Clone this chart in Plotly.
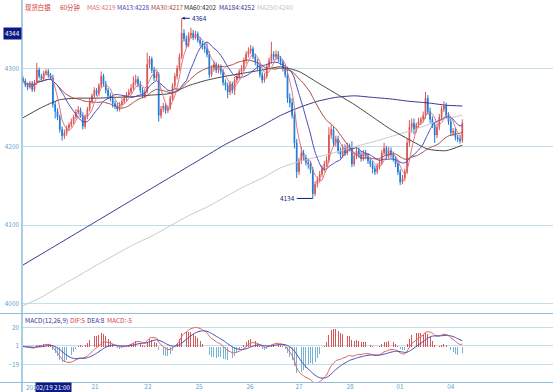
import numpy as np
import pandas as pd
import plotly.graph_objects as go

# ---------------- data ----------------
opens = [4287, 4284, 4279, 4276, 4281, 4273, 4282, 4298, 4290, 4287,
         4294, 4296, 4291, 4288, 4254, 4245, 4238, 4222, 4214, 4218,
         4224, 4228, 4232, 4238, 4244, 4247, 4240, 4226, 4238, 4248,
         4258, 4265, 4272, 4268, 4278, 4290, 4280, 4272, 4265, 4262,
         4255, 4252, 4248, 4254, 4258, 4262, 4266, 4270, 4275, 4282,
         4286, 4280, 4272, 4266, 4270, 4305, 4312, 4298, 4288, 4292,
         4240, 4248, 4252, 4246, 4250, 4262, 4278, 4290, 4300, 4315,
         4345, 4338, 4330, 4342, 4345, 4340, 4344, 4336, 4332, 4328,
         4325, 4318, 4292, 4300, 4305, 4298, 4302, 4296, 4282, 4278,
         4270, 4280, 4272, 4285, 4290, 4296, 4300, 4310, 4318, 4322,
         4325, 4315, 4308, 4302, 4292, 4285, 4290, 4302, 4310, 4318,
         4315, 4318, 4312, 4308, 4300, 4292, 4262, 4256, 4240, 4205,
         4168, 4182, 4192, 4186, 4180, 4178, 4170, 4140, 4152, 4158,
         4165, 4172, 4178, 4183, 4215, 4222, 4205, 4210, 4195, 4190,
         4198, 4192, 4200, 4198, 4178, 4188, 4195, 4190, 4185, 4192,
         4188, 4182, 4178, 4172, 4168, 4175, 4180, 4192, 4198, 4188,
         4195, 4190, 4185, 4178, 4168, 4155, 4160, 4168, 4205, 4225,
         4230, 4222, 4228, 4232, 4235, 4240, 4262, 4245, 4235, 4228,
         4215, 4225, 4238, 4248, 4252, 4240, 4232, 4218, 4220, 4212,
         4210, 4208]
highs = [4290, 4287, 4282, 4284, 4284, 4285, 4307, 4301, 4293, 4297,
         4299, 4299, 4294, 4292, 4258, 4249, 4241, 4226, 4222, 4227,
         4231, 4236, 4241, 4248, 4252, 4250, 4244, 4241, 4251, 4262,
         4268, 4276, 4275, 4281, 4296, 4293, 4284, 4275, 4269, 4265,
         4259, 4256, 4257, 4262, 4266, 4270, 4274, 4280, 4290, 4292,
         4290, 4284, 4276, 4274, 4320, 4316, 4315, 4302, 4296, 4295,
         4252, 4256, 4255, 4253, 4265, 4281, 4294, 4304, 4319, 4364,
         4350, 4342, 4346, 4352, 4349, 4348, 4347, 4340, 4335, 4332,
         4332, 4322, 4304, 4310, 4308, 4306, 4305, 4299, 4286, 4282,
         4284, 4283, 4289, 4294, 4299, 4304, 4314, 4322, 4327, 4330,
         4328, 4319, 4312, 4305, 4296, 4294, 4306, 4314, 4334, 4322,
         4323, 4322, 4316, 4311, 4304, 4302, 4268, 4262, 4245, 4210,
         4186, 4200, 4196, 4190, 4185, 4182, 4174, 4156, 4162, 4169,
         4176, 4182, 4188, 4225, 4228, 4226, 4214, 4214, 4199, 4203,
         4203, 4205, 4204, 4207, 4192, 4199, 4199, 4194, 4196, 4196,
         4192, 4186, 4182, 4176, 4179, 4184, 4196, 4205, 4201, 4200,
         4199, 4194, 4188, 4182, 4171, 4164, 4172, 4210, 4234, 4236,
         4236, 4231, 4237, 4238, 4245, 4270, 4266, 4250, 4239, 4231,
         4229, 4242, 4252, 4258, 4256, 4244, 4236, 4224, 4224, 4215,
         4214, 4235]
lows = [4281, 4276, 4272, 4274, 4270, 4270, 4279, 4287, 4284, 4284,
        4291, 4288, 4285, 4250, 4236, 4234, 4218, 4208, 4210, 4214,
        4220, 4225, 4229, 4235, 4241, 4237, 4222, 4223, 4235, 4245,
        4255, 4262, 4265, 4265, 4275, 4277, 4268, 4261, 4258, 4250,
        4248, 4245, 4245, 4251, 4255, 4258, 4263, 4267, 4272, 4278,
        4276, 4268, 4262, 4262, 4268, 4300, 4294, 4284, 4285, 4232,
        4236, 4244, 4242, 4243, 4247, 4259, 4274, 4286, 4297, 4312,
        4334, 4326, 4327, 4338, 4336, 4337, 4333, 4328, 4324, 4320,
        4314, 4288, 4289, 4296, 4294, 4294, 4292, 4278, 4272, 4262,
        4266, 4268, 4266, 4281, 4286, 4292, 4297, 4306, 4314, 4318,
        4312, 4304, 4298, 4288, 4281, 4282, 4287, 4299, 4306, 4310,
        4311, 4308, 4304, 4296, 4288, 4256, 4250, 4236, 4198, 4160,
        4164, 4178, 4182, 4176, 4172, 4166, 4134, 4137, 4148, 4154,
        4161, 4168, 4174, 4180, 4210, 4200, 4200, 4191, 4185, 4186,
        4188, 4189, 4194, 4174, 4175, 4184, 4186, 4181, 4182, 4184,
        4178, 4174, 4166, 4164, 4165, 4171, 4177, 4189, 4184, 4185,
        4186, 4181, 4174, 4164, 4151, 4152, 4156, 4165, 4200, 4218,
        4216, 4218, 4224, 4228, 4231, 4236, 4241, 4230, 4224, 4205,
        4211, 4221, 4234, 4244, 4236, 4228, 4214, 4214, 4208, 4206,
        4204, 4205]
closes = [4284, 4279, 4276, 4281, 4273, 4282, 4298, 4290, 4287, 4294,
          4296, 4291, 4288, 4254, 4245, 4238, 4222, 4214, 4218, 4224,
          4228, 4232, 4238, 4244, 4247, 4240, 4226, 4238, 4248, 4258,
          4265, 4272, 4268, 4278, 4290, 4280, 4272, 4265, 4262, 4255,
          4252, 4248, 4254, 4258, 4262, 4266, 4270, 4275, 4282, 4286,
          4280, 4272, 4266, 4270, 4305, 4312, 4298, 4288, 4292, 4240,
          4248, 4252, 4246, 4250, 4262, 4278, 4290, 4300, 4315, 4345,
          4338, 4330, 4342, 4345, 4340, 4344, 4336, 4332, 4328, 4325,
          4318, 4292, 4300, 4305, 4298, 4302, 4296, 4282, 4278, 4270,
          4280, 4272, 4285, 4290, 4296, 4300, 4310, 4318, 4322, 4325,
          4315, 4308, 4302, 4292, 4285, 4290, 4302, 4310, 4318, 4315,
          4318, 4312, 4308, 4300, 4292, 4262, 4256, 4240, 4205, 4168,
          4182, 4192, 4186, 4180, 4178, 4170, 4140, 4152, 4158, 4165,
          4172, 4178, 4183, 4215, 4222, 4205, 4210, 4195, 4190, 4198,
          4192, 4200, 4198, 4178, 4188, 4195, 4190, 4185, 4192, 4188,
          4182, 4178, 4172, 4168, 4175, 4180, 4192, 4198, 4188, 4195,
          4190, 4185, 4178, 4168, 4155, 4160, 4168, 4205, 4225, 4230,
          4222, 4228, 4232, 4235, 4240, 4262, 4245, 4235, 4228, 4215,
          4225, 4238, 4248, 4252, 4240, 4232, 4218, 4220, 4212, 4210,
          4208, 4230]

# long moving averages at these bar positions
ma_idx = [0, 8, 16, 24, 32, 40, 48, 56, 64, 72, 80, 88, 96, 104, 112, 120,
          128, 136, 144, 152, 160, 168, 176, 184, 191]
ma60 = [4237, 4250, 4260, 4262, 4262, 4263, 4264, 4266, 4268, 4278, 4285, 4290,
        4294, 4298, 4302, 4296, 4282, 4268, 4254, 4238, 4222, 4209, 4197, 4195, 4202]
ma184 = [4049, 4063, 4077, 4091, 4105, 4119, 4133, 4147, 4161, 4175, 4189, 4203,
         4215, 4227, 4240, 4250, 4258, 4263, 4265, 4263, 4261, 4258, 4256, 4253, 4252]
ma250 = [3997, 4008, 4022, 4035, 4049, 4062, 4075, 4086, 4099, 4112, 4123, 4136,
         4149, 4160, 4173, 4181, 4187, 4193, 4200, 4206, 4213, 4220, 4228, 4236, 4240]

day_labels = ["21", "22", "25", "26", "27", "28", "01", "04"]
day_pos = [31.3, 54.3, 76.5, 98.7, 120, 142.2, 163.9, 186]
price_ticks = [4000, 4100, 4200, 4300]
macd_ticks = [-19, 1, 20]
header_texts = ["现货白银", "60分钟", "MA5:4219", "MA13:4228", "MA30:4217",
                "MA60:4202", "MA184:4252", "MA250:4240"]
macd_texts = ["MACD(12,26,9)", "DIF:5", "DEA:8", "MACD:-5"]

# ---------------- derived indicators ----------------
N = len(closes)
x = list(range(N))
cs = pd.Series(closes, dtype=float)
ma5 = cs.rolling(5, min_periods=1).mean()
ma13 = cs.rolling(13, min_periods=1).mean()
ma30 = cs.rolling(30, min_periods=1).mean()
ema12 = cs.ewm(span=12, adjust=False).mean()
ema26 = cs.ewm(span=26, adjust=False).mean()
dif = ema12 - ema26
dea = dif.ewm(span=9, adjust=False).mean()
hist = 2 * (dif - dea)

C_UP = "#DA5555"
C_DN = "#1C7BD8"
C_MA5 = "#E0707C"
C_MA13 = "#4646B8"
C_MA30 = "#A8483E"
C_MA60 = "#454545"
C_MA184 = "#35358F"
C_MA250 = "#C9C9C9"
GRID = "#C4DDEA"
AXC = "#5F9FD0"
NAVY = "#0C1A86"
FONT = "Noto Sans CJK SC"
FS = 6.4

fig = go.Figure()
fig.add_trace(go.Candlestick(
    x=x, open=opens, high=highs, low=lows, close=closes,
    increasing=dict(line=dict(color=C_UP, width=1), fillcolor=C_UP),
    decreasing=dict(line=dict(color=C_DN, width=1), fillcolor=C_DN),
    whiskerwidth=0, xaxis="x", yaxis="y", showlegend=False, hoverinfo="skip"))

def line(xs, ys, color, xa="x", ya="y", w=1):
    fig.add_trace(go.Scatter(x=xs, y=list(ys), mode="lines",
                             line=dict(color=color, width=w, shape="spline", smoothing=0.6),
                             xaxis=xa, yaxis=ya, showlegend=False, hoverinfo="skip"))

line(ma_idx, ma250, C_MA250)
line(ma_idx, ma184, C_MA184)
line(ma_idx, ma60, C_MA60)
line(x, ma30, C_MA30)
line(x, ma13, C_MA13)
line(x, ma5, C_MA5)

# MACD panel
fig.add_trace(go.Bar(x=x, y=list(hist), width=0.4,
                     marker=dict(color=[C_UP if v >= 0 else "#76B2D8" for v in hist],
                                 line=dict(width=0)),
                     xaxis="x2", yaxis="y2", showlegend=False, hoverinfo="skip"))
line(x, dif, "#D86262", "x2", "y2")
line(x, dea, "#4A4AB0", "x2", "y2")

W, H = 554, 392
L = 22
PW = W - L - 1

def py(p):  # pixel row -> paper fraction
    return (H - p) / H

def px(p):  # pixel column -> paper fraction
    return (p - L) / PW

xr = [-1 / 2.3, -1 / 2.3 + PW / 2.3]

fig.update_layout(
    width=W, height=H, margin=dict(l=L, r=1, t=0, b=0, autoexpand=False),
    paper_bgcolor="white", plot_bgcolor="white",
    font=dict(family=FONT, size=FS, color=AXC),
    bargap=0, boxgap=0.55, hovermode=False, showlegend=False,
    xaxis=dict(domain=[0, 1], range=xr, anchor="y", showticklabels=False,
               showgrid=False, zeroline=False, rangeslider=dict(visible=False),
               automargin=False, fixedrange=True),
    yaxis=dict(domain=[py(310), py(12)], range=[3991.6, 4372], tickvals=price_ticks,
               showgrid=True, gridcolor=GRID, gridwidth=1, zeroline=False,
               ticks="", ticklabelstandoff=2, automargin=False,
               tickfont=dict(size=FS, color=AXC), anchor="x"),
    xaxis2=dict(domain=[0, 1], range=xr, anchor="y2", tickvals=day_pos,
                ticktext=day_labels, ticks="", showgrid=False, zeroline=False,
                automargin=False, ticklabelstandoff=0,
                tickfont=dict(size=FS, color=AXC), matches="x"),
    yaxis2=dict(domain=[py(382), py(314)], range=[-37, 33.9], tickvals=macd_ticks,
                showgrid=True, gridcolor=GRID, gridwidth=1, zeroline=False,
                ticks="", ticklabelstandoff=2, automargin=False,
                tickfont=dict(size=FS, color=AXC), anchor="x2"),
)

shapes = [
    dict(type="line", xref="paper", yref="paper", x0=0, x1=0, y0=0, y1=1,
         line=dict(color="#8FBCDB", width=1.5)),
    dict(type="line", xref="paper", yref="paper", x0=-L / PW, x1=1,
         y0=py(313.5), y1=py(313.5), line=dict(color="#8FBCDB", width=1.2)),
    dict(type="line", xref="paper", yref="paper", x0=-L / PW, x1=1,
         y0=py(382.5), y1=py(382.5), line=dict(color="#8FBCDB", width=1.2)),
]
fig.update_layout(shapes=shapes)

ann = []
header_x = [23, 58, 85, 115, 149, 182, 217, 255]
header_c = ["#D03535", "#D03535", C_MA5, C_MA13, C_MA30, "#303030", C_MA184, "#C4C4C4"]
for t, xp, c in zip(header_texts, header_x, header_c):
    ann.append(dict(text=t, x=px(xp), y=py(7.5), xref="paper", yref="paper",
                    xanchor="left", yanchor="middle", showarrow=False,
                    font=dict(size=FS, color=c, family=FONT)))
macd_x = [23, 68, 85, 105]
macd_c = ["#34349A", "#D04848", "#34349A", "#D04848"]
for t, xp, c in zip(macd_texts, macd_x, macd_c):
    ann.append(dict(text=t, x=px(xp), y=py(320), xref="paper", yref="paper",
                    xanchor="left", yanchor="middle", showarrow=False,
                    font=dict(size=FS, color=c, family=FONT)))

imax = int(np.argmax(highs))
imin = int(np.argmin(lows))
ann.append(dict(text=str(highs[imax]), x=imax, y=highs[imax], xref="x", yref="y",
                ax=8, ay=0, xanchor="left", showarrow=True, arrowhead=2, arrowsize=0.6,
                arrowwidth=1, arrowcolor=NAVY, font=dict(size=FS, color=NAVY)))
ann.append(dict(text=str(lows[imin]), x=imin, y=lows[imin], xref="x", yref="y",
                ax=-16, ay=0, xanchor="right", showarrow=True, arrowhead=0,
                arrowwidth=1, arrowcolor=NAVY, font=dict(size=FS, color=NAVY)))
# highlighted price & time labels
ann.append(dict(text="4344", x=0, y=4344, xref="paper", yref="y", xanchor="right",
                yanchor="middle", showarrow=False, bgcolor=NAVY, borderpad=1,
                font=dict(size=FS, color="white")))
ann.append(dict(text="201", x=px(24), y=py(387), xref="paper", yref="paper",
                xanchor="left", yanchor="middle", showarrow=False,
                font=dict(size=FS, color=AXC)))
ann.append(dict(text="02/19 21:00", x=px(35), y=py(387), xref="paper", yref="paper",
                xanchor="left", yanchor="middle", showarrow=False, bgcolor=NAVY,
                borderpad=0, font=dict(size=FS, color="white")))
fig.update_layout(annotations=ann)

fig.write_html("out.html", config={"displayModeBar": False, "staticPlot": True},
               post_script="document.body.style.margin='0';document.body.style.padding='0';"
                           "document.body.style.overflow='hidden';")
